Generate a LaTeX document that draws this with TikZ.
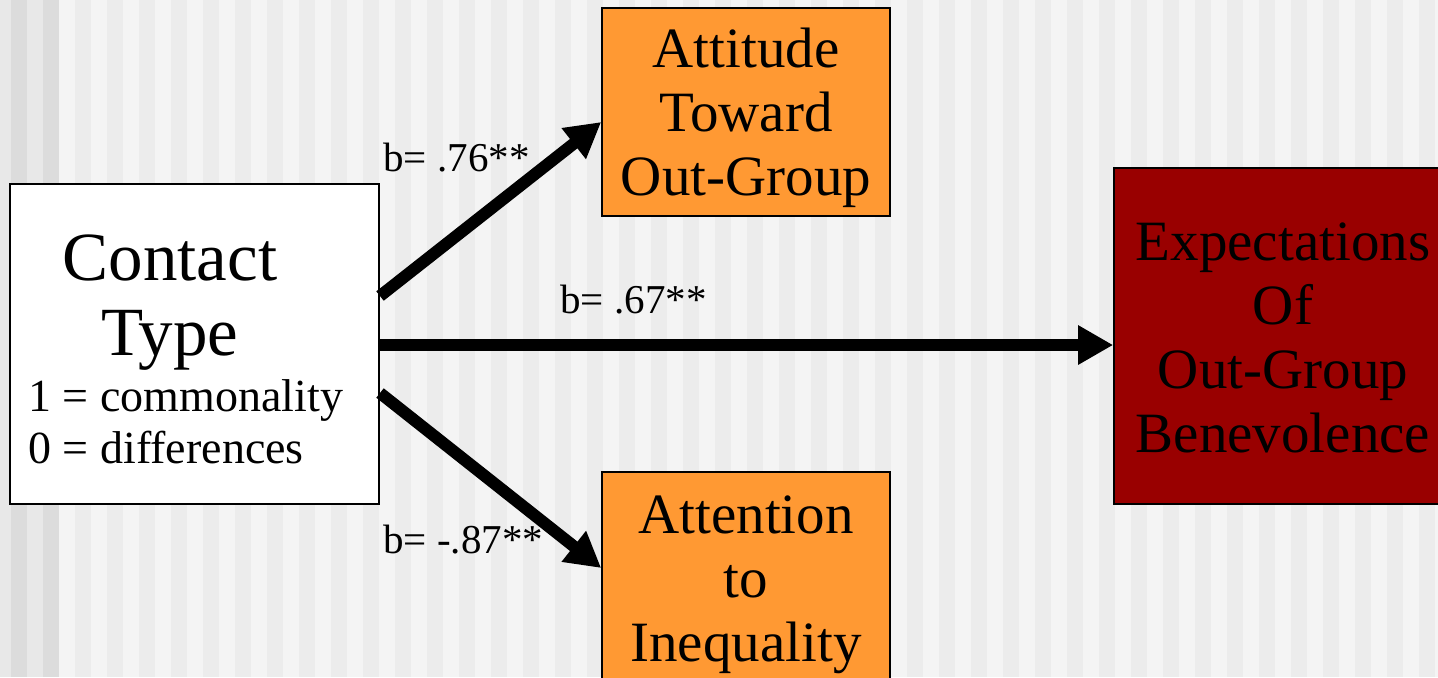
\documentclass[tikz,border=0pt]{standalone}
\usepackage{fontspec}
\setmainfont{Liberation Serif}
\usetikzlibrary{arrows.meta}
\definecolor{stripeA}{HTML}{F4F4F4}
\definecolor{stripeB}{HTML}{ECECEC}
\definecolor{edgeA}{HTML}{E8E8E8}
\definecolor{edgeB}{HTML}{DCDCDC}
\definecolor{boxorange}{RGB}{255,153,51}
\definecolor{boxred}{HTML}{990000}
\tikzset{
  bigtext/.style={font=\fontsize{28.5}{32}\selectfont, align=center, inner sep=0pt},
  orangebox/.style={draw=black, line width=0.8pt, fill=boxorange, minimum width=144pt, minimum height=104pt, inner sep=0pt},
  redbox/.style={draw=black, line width=0.8pt, fill=boxred, minimum width=169pt, minimum height=168pt, inner sep=0pt},
  whitebox/.style={draw=black, line width=1pt, fill=white, minimum width=184.5pt, minimum height=160pt, inner sep=0pt},
  path arrow/.style={line width=6pt, -{Triangle[length=17.5pt,width=18.5pt]}},
  coef/.style={font=\fontsize{20.5}{25}\selectfont, inner sep=0pt, anchor=west}
}
\begin{document}
\begin{tikzpicture}[x=0.5pt,y=-0.5pt]
\useasboundingbox (0,0) rectangle (1438,677);
\clip (0,0) rectangle (1438,677);
% background stripes
\fill[stripeA] (0,0) rectangle (1438,677);
\foreach \i in {0,...,43} {
  \fill[stripeB] ({75+32*\i},0) rectangle ({91+32*\i},677);
}
\fill[edgeA] (0,0) rectangle (59,677);
\fill[edgeB] (11,0) rectangle (27,677);
\fill[edgeB] (43,0) rectangle (59,677);
% boxes
\node[whitebox] (ct) at (194.5,344) {};
\node[font=\fontsize{34.5}{37.5}\selectfont, align=center, inner sep=0pt] (cttitle) at (170,303) {Contact\\Type};
\node[font=\fontsize{23}{26}\selectfont, align=left, inner sep=0pt, anchor=west] (ctcode) at (28,422) {1 = commonality\\0 = differences};
\node[orangebox] (att) at (746,112) {};
\node[bigtext] (atttext) at (746,118) {Attitude\\Toward\\Out-Group};
\node[orangebox, minimum height=108pt] (ati) at (746,580) {};
\node[bigtext] (atitext) at (746,585) {Attention\\to\\Inequality};
\node[redbox] (exp) at (1283,336) {};
\node[bigtext] (exptext) at (1283,338) {Expectations\\Of\\Out-Group\\Benevolence};
% arrows
\draw[path arrow] ([yshift=24pt]ct.east) -- ([yshift=-5pt]att.west);
\draw[path arrow] ([yshift=-0.5pt]ct.east) -- ([yshift=-4.5pt]exp.west);
\draw[path arrow] ([yshift=-24.5pt]ct.east) -- ([yshift=6pt]ati.west);
% coefficients
\node[coef] (c1) at (383,158) {b= .76**};
\node[coef] (c2) at (560,300) {b= .67**};
\node[coef] (c3) at (383,540) {b= -.87**};
\end{tikzpicture}
\end{document}
